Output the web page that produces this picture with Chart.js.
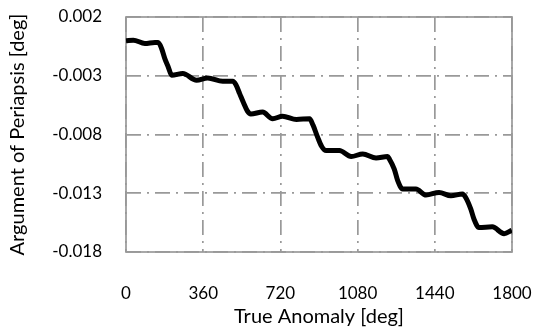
<!DOCTYPE html>
<html>
<head>
<meta charset="utf-8">
<script src="https://cdn.jsdelivr.net/npm/chart.js@4"></script>
<style>
  html, body { margin: 0; padding: 0; background: #fff; }
  #wrap { width: 533px; height: 331px; }
</style>
</head>
<body>
<div id="wrap"><canvas id="chart" width="533" height="331"></canvas></div>
<script>
// true anomaly [deg]
const anomaly = [0, 34, 88, 135, 150, 166, 181, 197, 213, 265, 329, 381, 451, 498, 512, 530, 548, 566, 582,
  637, 684, 730, 795, 856, 872, 893, 912, 933, 995, 1050, 1104, 1166, 1220, 1228, 1251, 1267, 1290,
  1352, 1399, 1460, 1515, 1569, 1584, 1608, 1623, 1646, 1708, 1763, 1799];
// argument of periapsis [deg]
const periapsis = [-0.00003, 0.00003, -0.00025, -0.00016, -0.00016, -0.00068, -0.00154, -0.00225, -0.00296,
  -0.00281, -0.00338, -0.00319, -0.00347, -0.00347, -0.00375, -0.00452, -0.00530, -0.00600, -0.00625,
  -0.00609, -0.00666, -0.00644, -0.00672, -0.00666, -0.00720, -0.00820, -0.00900, -0.00937, -0.00937,
  -0.00988, -0.00965, -0.01000, -0.00988, -0.01008, -0.01094, -0.01193, -0.01264,
  -0.01264, -0.01315, -0.01293, -0.01321, -0.01307, -0.01336, -0.01435, -0.01521, -0.01592,
  -0.01586, -0.01644, -0.01615];

const xTicks = [0, 360, 720, 1080, 1440, 1800];
const yTicks = [0.002, -0.003, -0.008, -0.013, -0.018];

const gridGray = '#999999';
const tickFont = { family: 'Lato', size: 17 };
const titleFont = { family: 'Lato', size: 20 };

// solid frame round the plot area
const frame = {
  id: 'frame',
  beforeDatasetsDraw(chart) {
    const { ctx, chartArea: a } = chart;
    ctx.save();
    ctx.strokeStyle = gridGray;
    ctx.lineWidth = 1.7;
    ctx.strokeRect(a.left, a.top, a.right - a.left, a.bottom - a.top);
    ctx.restore();
  }
};

new Chart(document.getElementById('chart'), {
  type: 'line',
  data: {
    datasets: [{
      data: anomaly.map((x, i) => ({ x: x, y: periapsis[i] })),
      borderColor: '#000',
      borderWidth: 5,
      pointRadius: 0,
      cubicInterpolationMode: 'monotone',
      fill: false
    }]
  },
  options: {
    responsive: false,
    animation: false,
    layout: { padding: { top: 17, right: 21, left: 0, bottom: 0 } },
    plugins: { legend: { display: false }, tooltip: { enabled: false } },
    scales: {
      x: {
        type: 'linear',
        min: 0,
        max: 1800,
        afterBuildTicks: s => { s.ticks = xTicks.map(v => ({ value: v })); },
        afterFit: s => { s.height = 79; s.paddingLeft = 0; s.paddingRight = 0; },
        ticks: { color: '#000', font: tickFont, padding: 31, maxRotation: 0, callback: v => String(v) },
        grid: { color: gridGray, lineWidth: 1.7, drawTicks: false },
        border: { display: false, dash: [15, 6, 2, 6] },
        title: { display: true, text: 'True Anomaly [deg]', color: '#000', font: titleFont, padding: { top: 0, bottom: 2 } }
      },
      y: {
        min: -0.018,
        max: 0.002,
        afterBuildTicks: s => { s.ticks = yTicks.map(v => ({ value: v })); },
        afterFit: s => { s.width = 126; s.paddingTop = 0; s.paddingBottom = 0; },
        ticks: { color: '#000', font: tickFont, padding: 24, callback: v => v.toFixed(3) },
        grid: { color: gridGray, lineWidth: 1.7, drawTicks: false },
        border: { display: false, dash: [15, 6, 2, 6] },
        title: { display: true, text: 'Argument of Periapsis [deg]', color: '#000', font: titleFont, padding: { top: 6, bottom: 0 } }
      }
    }
  },
  plugins: [frame]
});
</script>
</body>
</html>
